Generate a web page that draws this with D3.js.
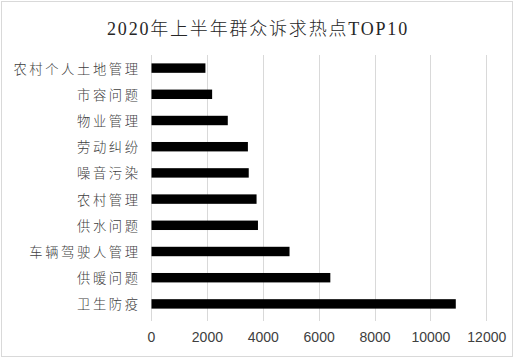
<!DOCTYPE html>
<html><head><meta charset="utf-8">
<script src="https://cdn.jsdelivr.net/npm/d3@7"></script>
<style>html,body{margin:0;padding:0;background:#fff;}</style>
</head><body>
<svg id="chart" width="514" height="358"></svg>
<script>
const title = "2020年上半年群众诉求热点TOP10";
const categories = ["农村个人土地管理","市容问题","物业管理","劳动纠纷","噪音污染","农村管理","供水问题","车辆驾驶人管理","供暖问题","卫生防疫"];
const values = [1930, 2170, 2730, 3450, 3480, 3760, 3810, 4940, 6400, 10890];
const xTicks = [0, 2000, 4000, 6000, 8000, 10000, 12000];

const svg = d3.select("#chart");
const W = 514, H = 358;
const m = {left: 151, right: 27, top: 55, bottom: 41};

svg.append("rect").attr("x",1.5).attr("y",1.5).attr("width",W-3).attr("height",H-3)
  .attr("fill","#fff").attr("stroke","#d9d9d9").attr("stroke-width",1);

const x = d3.scaleLinear().domain([0, 12000]).range([m.left, W - m.right - 0.7]);
const y = d3.scaleBand().domain(categories).range([m.top, H - m.bottom]).paddingInner(0.64).paddingOuter(0.32);

// gridlines
svg.append("g").selectAll("line").data(xTicks).join("line")
  .attr("x1", d => Math.round(x(d)) + 0.5).attr("x2", d => Math.round(x(d)) + 0.5)
  .attr("y1", m.top).attr("y2", H - m.bottom + 4)
  .attr("stroke", "#d9d9d9").attr("stroke-width", 1);

// bars
svg.append("g").selectAll("rect").data(categories).join("rect")
  .attr("x", x(0) + 0.5).attr("y", d => y(d))
  .attr("width", (d, i) => x(values[i]) - x(0))
  .attr("height", y.bandwidth())
  .attr("fill", "#000");

// category labels
svg.append("g").selectAll("text").data(categories).join("text")
  .attr("x", 138 + 2.6).attr("y", d => y(d) + y.bandwidth() / 2)
  .attr("text-anchor", "end").attr("dominant-baseline", "central")
  .attr("font-family", "'Noto Sans CJK SC', sans-serif").attr("font-size", 13.3)
  .attr("font-weight", 300)
  .attr("letter-spacing", "2.6px")
  .attr("fill", "#404040").text(d => d);

// x axis tick labels
const xAxis = d3.axisBottom(x).tickValues(xTicks).tickSize(0).tickPadding(0).tickFormat(d3.format("d"));
const gx = svg.append("g").attr("transform", `translate(0, 337)`).call(xAxis);
gx.select(".domain").remove();
gx.selectAll("text").attr("dy", "0.35em")
  .attr("font-family", "'Liberation Sans', Arial, sans-serif").attr("font-size", 14).attr("fill", "#404040");

// title
svg.append("text").attr("x", 258).attr("y", 29)
  .attr("text-anchor", "middle").attr("dominant-baseline", "central")
  .attr("font-family", "'Liberation Serif', 'Noto Sans CJK SC', serif").attr("font-size", 18)
  .attr("font-weight", 300)
  .attr("letter-spacing", "1.8px")
  .attr("fill", "#262626").text(title);
</script>
</body></html>
